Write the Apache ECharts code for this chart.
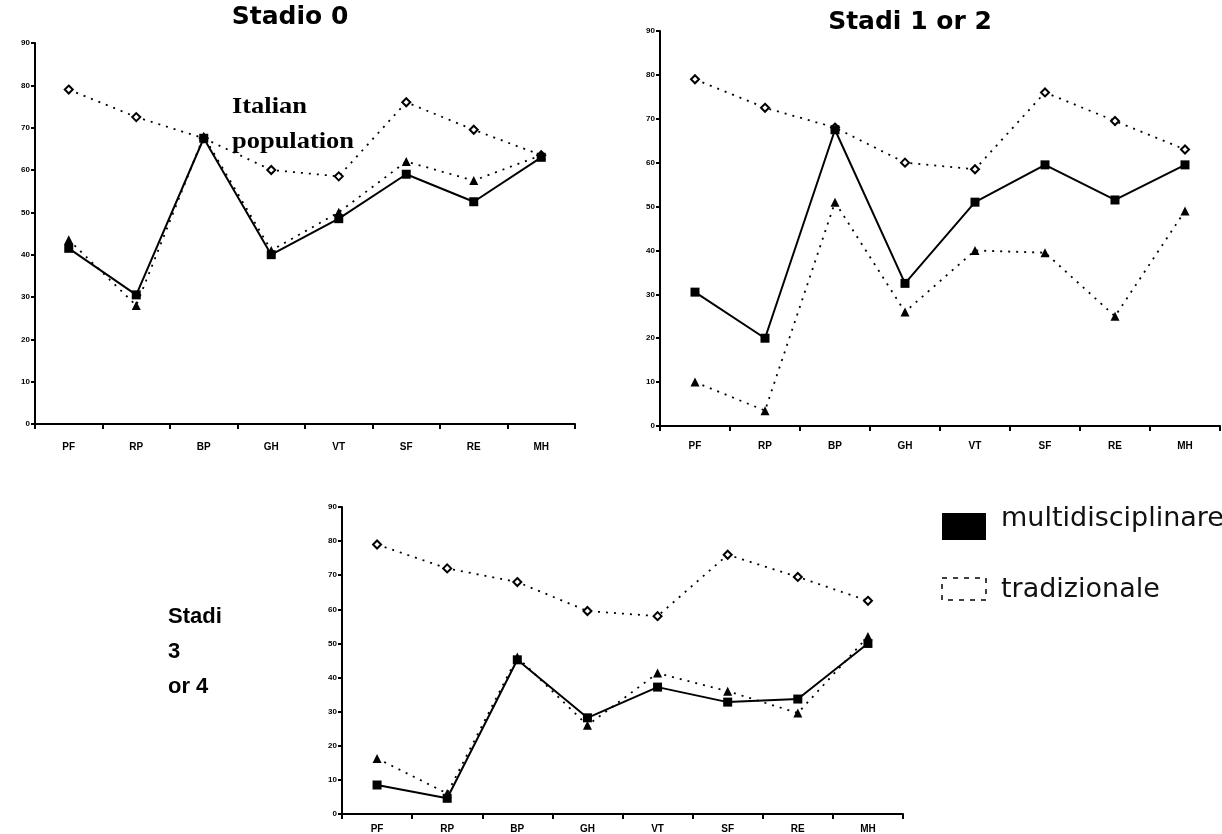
<!DOCTYPE html>
<html>
<head>
<meta charset="utf-8">
<script src="https://cdn.jsdelivr.net/npm/echarts@6/dist/echarts.min.js"></script>
<style>
html,body{margin:0;padding:0;background:#fff;}
#c{width:1222px;height:834px;}
</style>
</head>
<body>
<div id="c"></div>
<script>
// SF-36 scales
const categories = ['PF', 'RP', 'BP', 'GH', 'VT', 'SF', 'RE', 'MH'];
const yTickLabels = ['0', '10', '20', '30', '40', '50', '60', '70', '80', '90'];

// Stadio 0
const s0Italian = [79, 72.5, 67.5, 60, 58.5, 76, 69.5, 63.5];
const s0Multi   = [41.5, 30.5, 67.5, 40, 48.5, 59, 52.5, 63];
const s0Trad    = [43.5, 28, 68, 41, 50, 62, 57.5, 63.5];

// Stadi 1 or 2
const s12Italian = [79, 72.5, 68, 60, 58.5, 76, 69.5, 63];
const s12Multi   = [30.5, 20, 67.5, 32.5, 51, 59.5, 51.5, 59.5];
const s12Trad    = [10, 3.5, 51, 26, 40, 39.5, 25, 49];

// Stadi 3 or 4
const s34Italian = [79, 72, 68, 59.5, 58, 76, 69.5, 62.5];
const s34Multi   = [8.5, 4.6, 45.2, 28.2, 37.2, 32.8, 33.7, 50];
const s34Trad    = [16.3, 6, 46, 26, 41.3, 36, 29.6, 52];

const chart = echarts.init(document.getElementById('c'));

const grids = [
  {left: 35, right: 1222 - 575, top: 43, bottom: 834 - 424},
  {left: 660, right: 2, top: 31, bottom: 834 - 426},
  {left: 342, right: 1222 - 903, top: 507, bottom: 834 - 814}
];
const labelMargins = [18, 15, 10];

function xAxis(i) {
  return {
    type: 'category', gridIndex: i, data: categories, boundaryGap: true,
    axisLine: {lineStyle: {color: '#000', width: 2}},
    axisTick: {show: true, length: 5, lineStyle: {color: '#000', width: 2}},
    axisLabel: {color: '#000', fontSize: 10, fontWeight: 'bold', fontFamily: 'Liberation Sans', margin: labelMargins[i]}
  };
}
function yAxis(i) {
  return {
    type: 'value', gridIndex: i, min: 0, max: 90, interval: 10,
    axisLine: {show: true, lineStyle: {color: '#000', width: 2}},
    axisTick: {show: true, length: 4, lineStyle: {color: '#000', width: 2}},
    splitLine: {show: false},
    axisLabel: {color: '#000', fontSize: 8, fontWeight: 'bold', fontFamily: 'Liberation Sans', margin: 5,
      formatter: function (v) { return yTickLabels[Math.round(v / 10)]; }}
  };
}

function italian(data, i) {
  return {type: 'line', name: 'Italian population', xAxisIndex: i, yAxisIndex: i, data: data,
    symbol: 'emptyDiamond', symbolSize: 8,
    itemStyle: {color: '#000', borderColor: '#000', borderWidth: 1.3},
    lineStyle: {color: '#000', width: 1.8, type: [2, 6]}, z: 2};
}
function multi(data, i) {
  return {type: 'line', name: 'multidisciplinare', xAxisIndex: i, yAxisIndex: i, data: data,
    symbol: 'rect', symbolSize: 9,
    itemStyle: {color: '#000'},
    lineStyle: {color: '#000', width: 2, type: 'solid'}, z: 4};
}
function trad(data, i) {
  return {type: 'line', name: 'tradizionale', xAxisIndex: i, yAxisIndex: i, data: data,
    symbol: 'triangle', symbolSize: 9,
    itemStyle: {color: '#000'},
    lineStyle: {color: '#000', width: 1.8, type: [2, 6]}, z: 3};
}

const titleStyle = {color: '#000', fontSize: 25, fontWeight: 'bold', fontFamily: 'DejaVu Sans'};

chart.setOption({
  animation: false,
  backgroundColor: '#fff',
  title: [
    {text: 'Stadio 0', left: 285, top: 0, textAlign: 'center', textStyle: titleStyle},
    {text: 'Stadi 1 or 2', left: 905, top: 5, textAlign: 'center', textStyle: titleStyle},
    {text: 'Stadi\n3\nor 4', left: 163, top: 594,
      textStyle: {color: '#000', fontSize: 22, fontWeight: 'bold', fontFamily: 'Liberation Sans', lineHeight: 35}}
  ],
  grid: grids,
  xAxis: [xAxis(0), xAxis(1), xAxis(2)],
  yAxis: [yAxis(0), yAxis(1), yAxis(2)],
  series: [
    italian(s0Italian, 0), multi(s0Multi, 0), trad(s0Trad, 0),
    italian(s12Italian, 1), multi(s12Multi, 1), trad(s12Trad, 1),
    italian(s34Italian, 2), multi(s34Multi, 2), trad(s34Trad, 2)
  ],
  graphic: [
    {type: 'text', x: 232, y: 90, scaleX: 1.15, z: 10,
      style: {text: 'Italian\npopulation', fill: '#000', font: 'bold 23px "Liberation Serif"', lineHeight: 35}},
    {type: 'rect', shape: {x: 942, y: 513, width: 44, height: 27}, style: {fill: '#000'}},
    {type: 'text', x: 1001, y: 519,
      style: {text: 'multidisciplinare', fill: '#111', font: '27px "DejaVu Sans"', verticalAlign: 'middle'}},
    {type: 'rect', shape: {x: 942, y: 578, width: 44, height: 22},
      style: {fill: 'none', stroke: '#000', lineWidth: 1.5, lineDash: [5, 6]}},
    {type: 'text', x: 1001, y: 590,
      style: {text: 'tradizionale', fill: '#111', font: '27px "DejaVu Sans"', verticalAlign: 'middle'}}
  ]
});
</script>
</body>
</html>
